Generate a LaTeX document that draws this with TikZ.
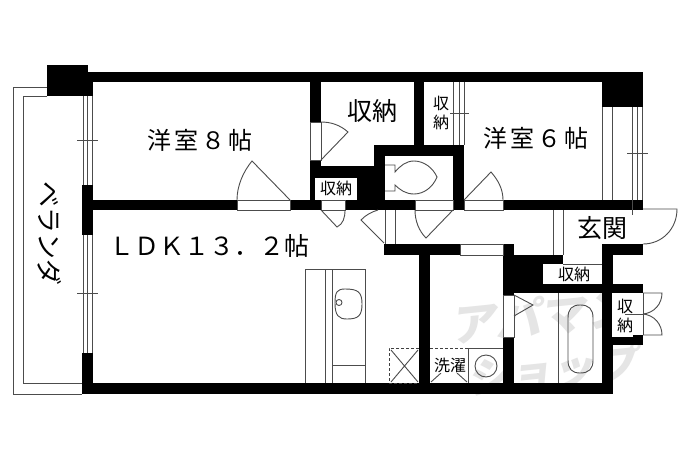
\documentclass[tikz,border=0pt]{standalone}
\usepackage{fontspec}
\newfontfamily\jp{Noto Sans CJK JP}
\newfontfamily\jpw[LetterSpace=12]{Noto Sans CJK JP}
\definecolor{ln}{gray}{0.3}
\definecolor{wm}{gray}{0.90}
\tikzset{
  wall/.style={fill=black,draw=none},
  thinl/.style={draw=ln,line width=0.9pt},
  opening/.style={fill=white,draw=ln,line width=0.8pt},
  whitebox/.style={fill=white,draw=none},
  dashl/.style={draw=black!75,line width=1pt,dash pattern=on 3pt off 2pt},
  bigtext/.style={font=\jpw\fontsize{24}{24}\selectfont,inner sep=0pt},
  ldktext/.style={font=\jp\fontsize{25}{25}\selectfont,inner sep=0pt},
  vertext/.style={font=\jp\fontsize{26}{26}\selectfont,inner sep=0pt},
  midtext/.style={font=\jp\fontsize{25}{25}\selectfont,inner sep=0pt},
  smalltext/.style={font=\jp\fontsize{16}{16}\selectfont,inner sep=0pt},
  wmark/.style={font=\jp\bfseries\fontsize{45}{45}\selectfont,text=wm,inner sep=0pt,xslant=0.2,rotate=6}
}
\begin{document}
\begin{tikzpicture}[x=1pt,y=-1pt]
\useasboundingbox (0,0) rectangle (690,460);
\fill[white] (0,0) rectangle (690,460);
% watermark
\node[wmark] (wmA) at (544,316) {アパマン};
\node[wmark,font=\jp\bfseries\fontsize{42}{42}\selectfont] (wmB) at (555,370) {ショップ};
% balcony
\draw[thinl] (47,87) -- (13,87) -- (13,394) -- (82,394);
\draw[thinl] (47,96) -- (23,96) -- (23,383) -- (82,383);
% kitchen
\draw[thinl] (305,383) -- (305,269) -- (365,269) -- (365,383);
\draw[thinl] (325,269) -- (325,383) (332,269) -- (332,383) (332,365) -- (365,365);
\draw[thinl] (345,289) .. controls (337,289) and (335,292) .. (335,303)
  .. controls (335,316) and (339,319) .. (347,319)
  .. controls (358,319) and (362,316) .. (362,304)
  .. controls (362,292) and (358,289) .. (345,289) -- cycle;
\draw[thinl] (339,302.5) circle (3);
% walls
\fill[wall] (47,65) rectangle (88,96);
\fill[wall] (88,72) rectangle (643,82);
\fill[wall] (82,82) rectangle (93,96);
\fill[wall] (82,185) rectangle (93,235);
\fill[wall] (82,353) rectangle (93,394);
\fill[wall] (82,383) rectangle (613,394);
\fill[wall] (93,200) rectangle (643,210);
\fill[wall] (310,82) rectangle (321,200);
\fill[wall] (310,166) rectangle (385,200);
\fill[wall] (414,82) rectangle (424,145);
\fill[wall] (374,145) rectangle (464,156);
\fill[wall] (374,145) rectangle (385,200);
\fill[wall] (453,145) rectangle (464,210);
\fill[wall] (602,82) rectangle (643,107);
\fill[wall] (384,244) rectangle (514,255);
\fill[wall] (419,255) rectangle (430,383);
\fill[wall] (503,244) rectangle (514,295);
\fill[wall] (503,255) rectangle (563,264);
\fill[wall] (503,255) rectangle (543,285);
\fill[wall] (503,284) rectangle (643,293);
\fill[wall] (602,244) rectangle (643,255);
\fill[wall] (602,244) rectangle (613,394);
\fill[wall] (503,337) rectangle (514,383);
\fill[wall] (602,335) rectangle (643,345);
% openings in walls
\draw[opening] (237,200) rectangle (290,210);
\draw[opening] (310,122) rectangle (321,160);
\draw[opening] (321,200) rectangle (345,210);
\draw[opening] (415,200) rectangle (453,210);
\draw[opening] (464,200) rectangle (503,210);
\draw[opening] (460,244) rectangle (503,255);
\draw[opening] (503,295) rectangle (514,337);
% white closet boxes
\fill[whitebox] (315,178) rectangle (357,200);
\fill[whitebox] (543,267) rectangle (602,283);
\fill[whitebox] (563,264) rectangle (602,267);
\fill[whitebox] (612,293) rectangle (643,335);
\fill[whitebox] (612,335) rectangle (633,337);
% toilet
\draw[thinl] (385,165) -- (395,165) -- (395,172)
  .. controls (400,166) and (406,161) .. (414,161)
  .. controls (424,161) and (433,168) .. (437,177)
  .. controls (433,187) and (424,194) .. (414,194)
  .. controls (406,194) and (400,190) .. (395,185)
  -- (395,191) -- (385,191);
% windows
\fill[white] (83,96) rectangle (92,185);
\draw[thinl] (83,96) -- (83,185) (87,96) -- (87,185) (92,96) -- (92,185);
\draw[thinl] (77,140) -- (98,140);
\fill[white] (83,235) rectangle (92,353);
\draw[thinl] (83,235) -- (83,353) (87,235) -- (87,353) (92,235) -- (92,353);
\draw[thinl] (77,293) -- (98,293);
\draw[thinl] (453,82) -- (453,145) (459,82) -- (459,145) (464,82) -- (464,145);
\draw[thinl] (450,113) -- (469,113);
\draw[thinl] (602,107) -- (602,200) (612,107) -- (612,200) (632,107) -- (632,215) (637,107) -- (637,200) (642,107) -- (642,200);
\draw[thinl] (627,153) -- (648,153);
% doors
\draw[thinl] (290,200) -- (252,161) .. controls (243,172) and (237,186) .. (237,200);
\draw[thinl] (321,160) -- (348,132) .. controls (340,125) and (331,122) .. (321,122);
\draw[thinl] (464,200) -- (491,172) .. controls (498,180) and (503,189) .. (503,200);
\draw[thinl] (453,210) -- (426,238) .. controls (419,231) and (415,221) .. (415,210);
\draw[thinl] (321,210) -- (337,227) .. controls (343,224) and (345,218) .. (345,210);
\draw[thinl] (384,243) -- (361,220) .. controls (366,215) and (371,212) .. (378,210);
\draw[thinl] (643,209) -- (677,209) .. controls (677,229) and (662,244) .. (643,244);
\draw[thinl] (643,293) -- (662,293) .. controls (662,304) and (654,313) .. (643,314);
\draw[thinl] (643,335) -- (662,335) .. controls (662,324) and (654,315) .. (643,314);
\draw[thinl] (625,314) -- (643,314);
\draw[thinl] (643,293) -- (643,335);
\draw[thinl] (514,295) -- (533,305) -- (514,316);
% hall step lines
\draw[thinl] (385,210) -- (385,244) (395,210) -- (395,244);
\draw[thinl] (553,210) -- (553,255) (563,210) -- (563,255);
\draw[thinl] (563,264) -- (602,264);
% washroom
\draw[thinl] (468,348) -- (503,348) (468,348) -- (468,383);
\draw[thinl] (486,366) circle (11);
\draw[dashl] (419,348) -- (389,348) -- (389,383) -- (419,383);
\draw[thinl] (391,350) -- (418,382) (418,350) -- (391,382);
\draw[dashl] (430,348) -- (468,348);
\draw[thinl] (431,382) -- (441,373) (467,382) -- (457,373);
% bath
\draw[thinl] (558,293) -- (558,383);
\draw[thinl] (568,318) .. controls (568,309) and (572,305) .. (580,305)
  .. controls (589,305) and (593,309) .. (593,318) -- (593,360)
  .. controls (593,369) and (589,373) .. (580,373)
  .. controls (572,373) and (568,369) .. (568,360) -- cycle;
% text
\node[bigtext] (r8) at (200,140) {洋室\char"FF18 帖};
\node[bigtext] (r6) at (536,138) {洋室\char"FF16 帖};
\node[ldktext] (ldk) at (209,246) {\char"FF2C \char"FF24 \char"FF2B \char"FF11 \char"FF13 \char"FF0E \char"FF12 帖};
\node[vertext,rotate=-90] (ver) at (50,233) {ベランダ};
\node[midtext] (st) at (372,111) {収納};
\node[midtext] (gk) at (602,228) {玄関};
\node[smalltext] (s1) at (336,188) {収納};
\node[smalltext] (s2a) at (441,103) {収};
\node[smalltext] (s2b) at (441,122) {納};
\node[smalltext] (s3) at (574,274) {収納};
\node[smalltext] (s4a) at (625,306) {収};
\node[smalltext] (s4b) at (625,325) {納};
\node[smalltext,fill=white,inner sep=1pt] (wash) at (450,365) {洗濯};
\end{tikzpicture}
\end{document}
